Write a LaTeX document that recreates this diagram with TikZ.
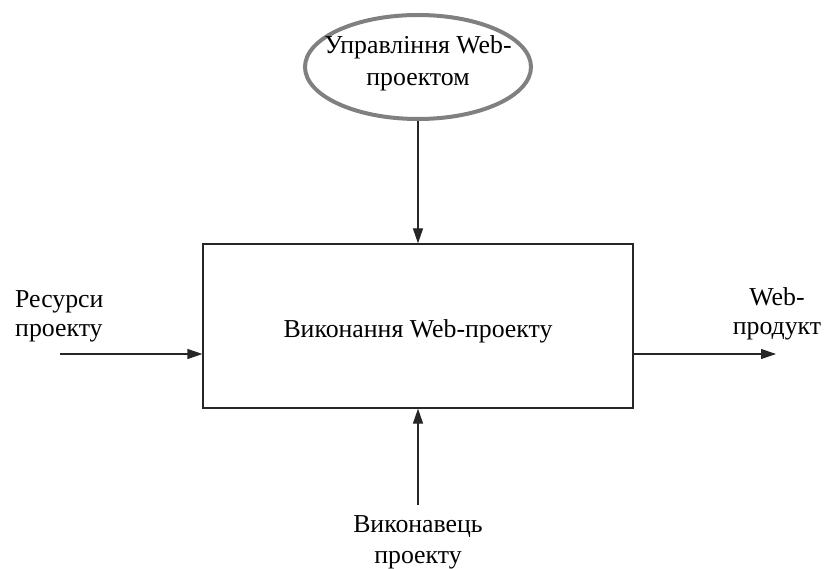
\documentclass[tikz,border=0pt]{standalone}
\usepackage{fontspec}
\setmainfont{Liberation Serif}
\usetikzlibrary{arrows.meta,shapes.geometric}
\begin{document}
\begin{tikzpicture}[x=1pt,y=-1pt,
  txt/.style={font=\fontsize{25.8}{29}\selectfont, inner sep=0pt, align=center},
  flow/.style={draw=black!85, line width=1.2pt, -{Triangle[length=15pt,width=10pt]}},
  mainbox/.style={draw=black!85, line width=1.2pt, minimum width=430pt, minimum height=164pt, inner sep=0pt},
  ctrl/.style={draw=black!50, line width=4pt, ellipse, minimum width=226pt, minimum height=104pt, inner sep=0pt}]
  \useasboundingbox (0,0) rectangle (824,569);
  % main activity box
  \node[mainbox] (box) at (418,326) {};
  \node[txt, anchor=base] (boxlabel) at (418,337) {Виконання Web-проекту};
  % control ellipse
  \node[ctrl] (ctl) at (418,67) {};
  \node[txt, font=\fontsize{25.8}{32}\selectfont] (ctllabel) at (418,63) {Управління Web-\\проектом};
  % free ends of the connectors
  \coordinate (inL) at (60,354);
  \coordinate (outR) at (776,354);
  \coordinate (mechB) at (418,505);
  % labels
  \node[txt, align=left, anchor=west] (inlabel) at (15,316) {Ресурси\\проекту};
  \node[txt] (outlabel) at (777,314) {Web-\\продукт};
  \node[txt, font=\fontsize{25.8}{31}\selectfont] (mechlabel) at (418,542) {Виконавець\\проекту};
  % connectors
  \draw[flow] (ctl.south) -- (box.north);
  \draw[flow] (inL) -- (box.west |- inL);
  \draw[flow] (box.east |- outR) -- (outR);
  \draw[flow] (mechB) -- (box.south);
\end{tikzpicture}
\end{document}
